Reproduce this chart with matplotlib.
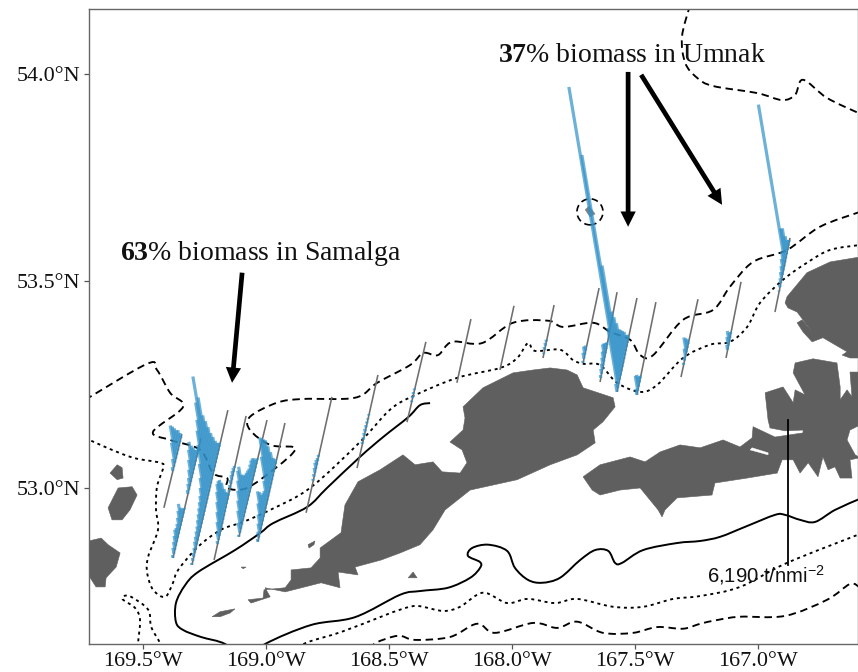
import numpy as np
import matplotlib
matplotlib.use("Agg")
import matplotlib.pyplot as plt
from matplotlib.patches import Ellipse, Polygon, PathPatch
from matplotlib.path import Path

plt.rcParams['mathtext.fontset'] = 'custom'
plt.rcParams['mathtext.rm'] = 'Liberation Sans'
plt.rcParams['mathtext.bf'] = 'Liberation Serif:bold'
plt.rcParams['mathtext.default'] = 'rm'

# ---------- map extent and ticks ----------
LON_LIM = (-169.7195, -166.5935)
LAT_LIM = (52.6231, 54.157)
lon_ticks = [-169.5, -169.0, -168.5, -168.0, -167.5, -167.0]
lat_ticks = [53.0, 53.5, 54.0]
lon_labels = ['169.5°W', '169.0°W', '168.5°W', '168.0°W', '167.5°W', '167.0°W']
lat_labels = ['53.0°N', '53.5°N', '54.0°N']

# ---------- land (lon west, lat) ----------
island_a = [(168.252,53.111),(168.199,53.140),(168.191,53.169),(168.199,53.196),(168.118,53.242),(167.996,53.278),
 (167.914,53.285),(167.845,53.290),(167.776,53.285),(167.735,53.273),(167.711,53.242),(167.589,53.218),(167.581,53.196),
 (167.630,53.160),(167.670,53.140),(167.662,53.109),(167.735,53.080),(167.845,53.056),(167.979,53.020),(168.170,52.995),
 (168.272,52.947),(168.321,52.899),(168.374,52.863),(168.455,52.843),(168.532,52.826),(168.638,52.809),(168.626,52.790),
 (168.707,52.797),(168.699,52.759),(168.776,52.771),(168.922,52.749),(169.004,52.759),(168.983,52.737),(169.061,52.722),
 (169.073,52.730),(169.012,52.734),(169.008,52.754),(168.922,52.759),(168.898,52.778),(168.898,52.802),(168.817,52.807),
 (168.780,52.831),(168.780,52.855),(168.695,52.892),(168.679,52.959),(168.626,53.015),(168.536,53.044),(168.443,53.080),
 (168.394,53.056),(168.321,53.063),(168.284,53.039),(168.211,53.036),(168.183,53.061),(168.203,53.092)]
island_b = [(167.711,53.027),(167.642,53.056),(167.520,53.075),(167.459,53.063),(167.398,53.087),(167.317,53.104),
 (167.235,53.097),(167.142,53.116),(167.073,53.099),(167.024,53.121),(167.020,53.148),(166.931,53.123),(166.817,53.133),
 (166.817,53.140),(166.890,53.138),(166.951,53.145),(166.959,53.164),(166.971,53.230),(166.898,53.244),(166.857,53.206),
 (166.849,53.237),(166.809,53.225),(166.857,53.278),(166.849,53.302),(166.776,53.312),(166.679,53.302),(166.666,53.244),
 (166.666,53.213),(166.638,53.237),(166.618,53.220),(166.626,53.280),(166.585,53.280),(166.585,53.152),(166.626,53.140),
 (166.638,53.116),(166.605,53.080),(166.585,53.073),(166.626,53.068),(166.618,53.024),(166.666,53.024),(166.687,53.051),
 (166.715,53.044),(166.736,53.075),(166.756,53.027),(166.796,53.061),(166.829,53.036),(166.857,53.068),(166.902,53.068),
 (166.922,53.036),(167.044,53.024),(167.175,53.012),(167.187,52.983),(167.329,52.976),(167.378,52.947),(167.390,52.930),
 (167.406,52.947),(167.479,53.000),(167.561,52.995),(167.642,52.983),(167.674,52.995)]
island_c = [(166.890,53.447),(166.882,53.462),(166.801,53.520),(166.707,53.546),(166.585,53.558),(166.585,53.314),
 (166.626,53.314),(166.658,53.321),(166.638,53.329),(166.736,53.363),(166.780,53.353),(166.817,53.377),(166.841,53.399),
 (166.821,53.406),(166.780,53.377),(166.817,53.406),(166.841,53.425),(166.878,53.435)]
isle_left = [(169.735,52.870),(169.670,52.879),(169.642,52.863),(169.593,52.843),(169.609,52.809),(169.650,52.783),
 (169.654,52.761),(169.691,52.761),(169.735,52.802)]
isle_small1 = [(169.634,53.036),(169.605,53.056),(169.585,53.049),(169.581,53.024),(169.605,53.020)]
isle_small2 = [(169.642,52.952),(169.601,53.000),(169.544,53.003),(169.524,52.983),(169.553,52.947),(169.585,52.923),(169.626,52.923)]
isle_sliver = [(169.219,52.689),(169.187,52.701),(169.126,52.708),(169.146,52.698),(169.187,52.689)]
isle_tiny1 = [(169.101,52.809),(169.081,52.809),(169.093,52.805)]
isle_tiny2 = [(168.829,52.863),(168.801,52.872),(168.805,52.863),(168.825,52.855)]
isle_tiny3 = [(168.402,52.797),(168.422,52.783),(168.386,52.783)]
lands = [island_a, island_b, island_c, isle_left, isle_small1, isle_small2, isle_sliver, isle_tiny1, isle_tiny2, isle_tiny3]
inlet = [(167.032,53.092),(166.959,53.080),(166.959,53.085),(167.024,53.097)]
bogoslof = [(167.703,53.672),(167.687,53.681),(167.662,53.662),(167.683,53.655)]
bogoslof_centre = (167.683, 53.667)

# ---------- depth contours ----------
solid_contour = [(168.333,53.205),(168.374,53.200),(168.422,53.171),(168.524,53.123),(168.618,53.075),(168.752,53.000),
 (168.833,52.954),(168.971,52.915),(169.024,52.891),(169.126,52.850),(169.276,52.797),(169.329,52.765),(169.366,52.722),
 (169.366,52.676),(169.337,52.657),(169.264,52.640),(169.166,52.623),(169.085,52.584),(169.004,52.623),(168.817,52.669),
 (168.638,52.688),(168.455,52.742),(168.374,52.751),(168.260,52.759),(168.170,52.783),(168.130,52.807),(168.130,52.821),
 (168.179,52.836),(168.162,52.855),(168.097,52.863),(168.020,52.848),(167.988,52.807),(167.935,52.778),(167.878,52.771),
 (167.805,52.783),(167.723,52.826),(167.662,52.850),(167.609,52.848),(167.581,52.819),(167.553,52.819),(167.467,52.850),
 (167.329,52.867),(167.235,52.872),(167.154,52.882),(167.053,52.906),(166.931,52.935),(166.890,52.935),(166.829,52.923),
 (166.768,52.918),(166.687,52.947),(166.585,52.974)]
dotted_main = [(169.735,53.121),(169.646,53.097),(169.540,53.073),(169.431,53.061),(169.418,53.049),(169.443,53.003),
 (169.447,52.947),(169.439,52.899),(169.479,52.834),(169.483,52.795),(169.459,52.754),(169.410,52.737),(169.378,52.771),
 (169.357,52.802),(169.276,52.858),(169.183,52.899),(169.093,52.918),(168.983,52.947),(168.821,53.000),(168.618,53.111),
 (168.496,53.189),(168.402,53.222),(168.223,53.266),(168.048,53.290),(167.979,53.314),(167.935,53.350),(167.906,53.331),
 (167.805,53.334),(167.752,53.309),(167.711,53.300),(167.642,53.297),(167.573,53.254),(167.479,53.232),(167.410,53.249),
 (167.305,53.314),(167.195,53.346),(167.114,53.353),(167.044,53.389),(166.992,53.447),(166.898,53.503),(166.801,53.544),
 (166.707,53.575),(166.585,53.587)]
dotted_curl = [(169.520,52.597),(169.520,52.626),(169.512,52.681),(169.532,52.710),(169.581,52.730),(169.577,52.739),
 (169.548,52.737),(169.479,52.706),(169.467,52.665),(169.431,52.626),(169.410,52.597)]
dotted_low = [(168.861,52.609),(168.837,52.626),(168.695,52.652),(168.532,52.689),(168.455,52.706),(168.386,52.715),
 (168.280,52.703),(168.211,52.713),(168.118,52.747),(168.020,52.722),(167.935,52.732),(167.825,52.722),(167.735,52.732),
 (167.589,52.713),(167.467,52.713),(167.345,52.732),(167.235,52.739),(167.073,52.761),(166.882,52.819),(166.585,52.889)]
dashed_low = [(168.577,52.609),(168.553,52.626),(168.463,52.643),(168.394,52.633),(168.252,52.640),(168.142,52.672),
 (168.069,52.650),(167.914,52.674),(167.817,52.662),(167.735,52.677),(167.630,52.650),(167.508,52.650),(167.410,52.664),
 (167.305,52.660),(167.235,52.672),(167.166,52.681),(167.073,52.689),(166.890,52.691),(166.719,52.730),(166.626,52.768),
 (166.585,52.759)]
dashed_up = [(169.735,53.213),(169.483,53.300),(169.443,53.285),(169.390,53.230),(169.337,53.196),(169.459,53.136),
 (169.390,53.116),(169.268,53.092),(169.215,53.036),(169.158,53.024),(169.158,53.000),(169.077,53.000),(168.955,53.051),
 (168.890,53.085),(168.890,53.099),(168.983,53.104),(169.065,53.140),(169.065,53.172),(168.955,53.206),(168.849,53.215),
 (168.638,53.218),(168.548,53.254),(168.414,53.297),(168.361,53.326),(168.301,53.321),(168.244,53.353),(168.122,53.350),
 (167.996,53.399),(167.853,53.404),(167.792,53.389),(167.670,53.399),(167.601,53.377),(167.520,53.358),(167.479,53.321),
 (167.426,53.321),(167.305,53.406),(167.183,53.430),(167.114,53.486),(167.020,53.546),(166.882,53.575),(166.748,53.631),
 (166.585,53.667)]
dashed_top = [(167.276,54.167),(167.309,54.090),(167.296,54.027),(167.248,53.991),(167.183,53.971),(167.004,53.954),
 (166.902,53.937),(166.849,53.950),(166.817,53.986),(166.719,53.942),(166.585,53.904)]

# ---------- acoustic transects: ends (lon W, lat), biomass (t/nmi2) south to north ----------
t01_ends = [(169.415,52.952),(169.342,53.130)]
t02_ends = [(169.378,52.831),(169.264,53.121)]
t03_ends = [(169.301,52.814),(169.155,53.188)]
t04_ends = [(169.211,52.826),(169.081,53.174)]
t05_ends = [(169.110,52.882),(168.996,53.164)]
t06_ends = [(169.033,52.870),(168.923,53.157)]
t07_ends = [(168.837,52.940),(168.732,53.220)]
t08_ends = [(168.630,53.048),(168.545,53.273)]
t09_ends = [(168.427,53.159),(168.350,53.353)]
t10_ends = [(168.224,53.254),(168.167,53.408)]
t11_ends = [(168.049,53.285),(167.992,53.440)]
t12_ends = [(167.874,53.314),(167.829,53.442)]
t13_ends = [(167.711,53.302),(167.646,53.483)]
t14_ends = [(167.642,53.256),(167.573,53.473)]
t15_ends = [(167.573,53.232),(167.492,53.459)]
t16_ends = [(167.492,53.225),(167.415,53.449)]
t17_ends = [(167.313,53.268),(167.244,53.456)]
t18_ends = [(167.130,53.314),(167.069,53.498)]
t19_ends = [(166.931,53.425),(166.870,53.604)]

t01_bio = [0,0,0,0,0,0,0,0,0,170,340,860,1420,1200,950,690,520,220,0]
t02_bio = [130,260,340,430,520,430,430,520,640,770,430,210,90,0,0,0,170,260,340,520,770,1030,1200,860,600,340,170,90,0,0,0]
t03_bio = [90,130,170,210,300,340,390,430,520,600,680,770,860,1030,1280,1710,2350,2780,3070,3630,4570,3500,2560,2140,1710,1280,940,600,340,170,0,0,0,0,0,0,0,0,0]
t04_bio = [0,0,0,0,130,340,600,850,1110,1370,1540,1490,1370,1070,640,340,130,90,130,170,210,210,170,90,0,0,0,0,0,0,0,0,0,0,0,0,0]
t05_bio = [90,430,770,1030,1280,1540,1790,1790,1280,1070,940,850,770,680,680,680,600,430,210,90,0,0,0,0,0,0,0,0,0,0]
t06_bio = [130,260,430,640,940,1280,1070,770,680,600,850,1710,2350,2140,1920,1710,1280,850,430,210,0,0,0,0,0,0,0,0,0,0]
t07_bio = [0,0,0,0,0,0,0,0,90,130,210,260,210,130,90,0,0,0,0,0,0,0,0,0,0,0,0,0,0,0]
t08_bio = [0,0,0,0,0,0,90,110,130,130,110,90,60,60,0,0,0,0,0,0,0,0,0,0]
t09_bio = [0,0,0,0,0,70,90,90,70,0,0,0,0,0,0,0,0,0,0,0,0]
t10_bio = [0]*17
t11_bio = [0]*17
t12_bio = [0,60,130,130,90,0,0,0,0,0,0,0,0,0]
t13_bio = [90,260,340,210,0,0,0,0,0,0,0,0,0,0,0,0,0,0,0]
t14_bio = [0,130,210,260,340,430,560,430,260,130,0,0,0,0,0,0,0,0,0,0,0,0,0]
t15_bio = [340,2560,12680,9600,4700,2560,2140,1710,1280,1070,850,640,340,170,0,0,0,0,0,0,0,0,0,0]
t16_bio = [260,640,510,260,130,0,0,0,0,0,0,0,0,0,0,0,0,0,0,0,0,0,0,0]
t17_bio = [0,0,0,90,170,340,640,430,210,0,0,0,0,0,0,0,0,0,0,0]
t18_bio = [0,0,210,380,470,210,90,0,0,0,0,0,0,0,0,0,0,0,0,0]
t19_bio = [0,0,0,0,0,40,130,210,300,380,510,640,6750,1280,1110,600,260,90,0]

transects = [(t01_ends,t01_bio),(t02_ends,t02_bio),(t03_ends,t03_bio),(t04_ends,t04_bio),(t05_ends,t05_bio),
             (t06_ends,t06_bio),(t07_ends,t07_bio),(t08_ends,t08_bio),(t09_ends,t09_bio),(t10_ends,t10_bio),
             (t11_ends,t11_bio),(t12_ends,t12_bio),(t13_ends,t13_bio),(t14_ends,t14_bio),(t15_ends,t15_bio),
             (t16_ends,t16_bio),(t17_ends,t17_bio),(t18_ends,t18_bio),(t19_ends,t19_bio)]

# scale bar
SCALE_VALUE = 6190
scale_lon = 166.878
scale_lat0 = 52.814
LAT_PER_T = 0.350 / SCALE_VALUE
LON_PER_T = 1.6e-5

# annotation text
text_umnak = r'$\mathbf{37}$% biomass in Umnak'
text_samalga = r'$\mathbf{63}$% biomass in Samalga'
text_scale = '6,190 t/nmi$^{-2}$'
arrows = [((169.097,53.520),(169.138,53.254)),
          ((167.528,54.005),(167.528,53.631)),
          ((167.475,53.998),(167.146,53.684))]

def xy(pts):
    a = np.array(pts, dtype=float)
    return -a[:, 0], a[:, 1]

def smooth_path(pts):
    """Bezier path through the digitised vertices (Catmull-Rom control points)."""
    x, y = xy(pts)
    p = np.c_[x, y]
    q = np.vstack([p[0], p, p[-1]])
    verts = [p[0]]
    codes = [Path.MOVETO]
    for i in range(1, len(q) - 2):
        verts += [q[i] + (q[i+1] - q[i-1]) / 6, q[i+1] - (q[i+2] - q[i]) / 6, q[i+1]]
        codes += [Path.CURVE4] * 3
    return Path(verts, codes)

fig = plt.figure(figsize=(8.58, 6.72), dpi=100)
ax = fig.add_axes([89/858, 1-644/672, (858-89)/858, (644-9)/672])
ax.set_xlim(*LON_LIM)
ax.set_ylim(*LAT_LIM)

LAND = '#5f5f5f'
for poly in lands:
    x, y = xy(poly)
    ax.add_patch(Polygon(np.c_[x, y], closed=True, fc=LAND, ec=LAND, lw=0.4, zorder=1))
x, y = xy(inlet)
ax.add_patch(Polygon(np.c_[x, y], closed=True, fc='white', ec='white', lw=0.3, zorder=1.5))
x, y = xy(bogoslof)
ax.add_patch(Polygon(np.c_[x, y], closed=True, fc='#808080', ec='#808080', lw=0.3, zorder=1))

DASH = (0, (4, 2.5))
DOT = (0, (1.6, 2.0))
ax.add_patch(PathPatch(smooth_path(solid_contour), fc='none', ec='black', lw=1.4, zorder=2))
for c in (dotted_main, dotted_curl, dotted_low):
    ax.add_patch(PathPatch(smooth_path(c), fc='none', ec='black', lw=1.35, ls=DOT, zorder=2))
for c in (dashed_low, dashed_up, dashed_top):
    ax.add_patch(PathPatch(smooth_path(c), fc='none', ec='black', lw=1.35, ls=DASH, zorder=2))
ax.add_patch(Ellipse((-bogoslof_centre[0], bogoslof_centre[1]), 0.1057, 0.0628, fc='none', ec='black', lw=1.2, ls=DASH, zorder=2))

for ends, bio in transects:
    x, y = xy(ends)
    ax.plot(x, y, color='#6e6e6e', lw=1.15, zorder=3, solid_capstyle='butt')
    bx = np.linspace(x[0], x[1], len(bio))
    by = np.linspace(y[0], y[1], len(bio))
    for b0x, b0y, v in zip(bx, by, bio):
        if v > 0:
            ax.plot([b0x, b0x - v*LON_PER_T], [b0y, b0y + v*LAT_PER_T], color='#2f90c8', alpha=0.7,
                    lw=2.3, solid_capstyle='butt', zorder=4)

ax.plot([-scale_lon, -scale_lon], [scale_lat0, scale_lat0 + SCALE_VALUE*LAT_PER_T], color='black', lw=1.3, zorder=5)
ax.text(-167.207, 52.773, text_scale, family='Liberation Sans', fontsize=14.6, color='#111111', va='baseline', ha='left', zorder=6)

ax.text(-168.057, 54.029, text_umnak, family='Liberation Serif', fontsize=20, color='#111111', va='baseline', ha='left', zorder=6)
ax.text(-169.593, 53.551, text_samalga, family='Liberation Serif', fontsize=20, color='#111111', va='baseline', ha='left', zorder=6)

for (s, e) in arrows:
    ax.annotate('', xy=(-e[0], e[1]), xytext=(-s[0], s[1]),
                arrowprops=dict(facecolor='black', edgecolor='black', width=3.4, headwidth=11, headlength=11, shrink=0, lw=0),
                zorder=6)

ax.set_xticks(lon_ticks)
ax.set_xticklabels(lon_labels)
ax.set_yticks(lat_ticks)
ax.set_yticklabels(lat_labels)
ax.tick_params(axis='both', length=3.5, width=0.9, color='#555555', labelcolor='#111111', labelsize=15.9, pad=2.5)
for lab in ax.get_xticklabels() + ax.get_yticklabels():
    lab.set_family('Liberation Serif')
for sp in ax.spines.values():
    sp.set_color('#666666')
    sp.set_linewidth(1.0)

fig.savefig('out.png', dpi=100, facecolor='white')
